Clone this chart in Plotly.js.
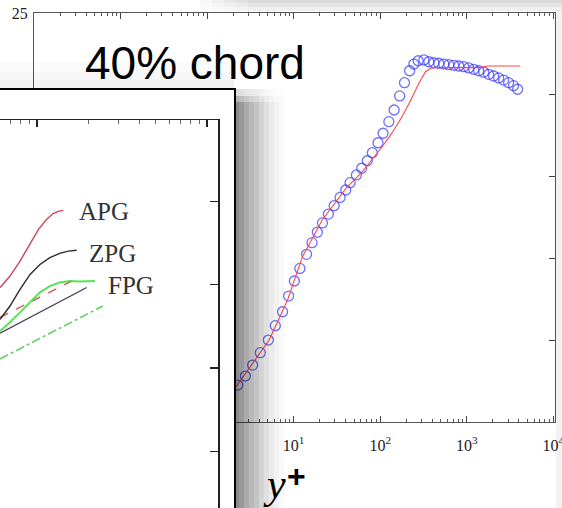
<!DOCTYPE html>
<html>
<head>
<meta charset="utf-8">
<script src="https://cdn.plot.ly/plotly-3.0.1.min.js"></script>
<style>html,body{margin:0;padding:0;background:#fff;}#chart{width:562px;height:508px;}</style>
</head>
<body>
<div id="chart"></div>
<script>
// ---- main chart data: u+ versus y+ at 40% chord ----
var measYplus = [2.26, 2.77, 3.36, 4.12, 5.10, 6.14, 7.45, 8.74, 10.2, 11.8, 14.1, 16.3, 18.8, 21.5, 25.2, 29.4, 34.4, 40.0, 44.9, 53.1, 61.2, 71.0, 81.1, 94.4, 108, 126, 145, 168, 191, 219, 245, 275, 320, 365, 417, 475, 543, 621, 708, 809, 923, 1054, 1205, 1374, 1570, 1791, 2046, 2339, 2667, 3048, 3475, 3873];
var measUplus = [2.26, 2.81, 3.48, 4.24, 5.01, 5.89, 6.74, 7.70, 8.62, 9.39, 10.25, 10.96, 11.6, 12.17, 12.71, 13.22, 13.73, 14.18, 14.63, 15.10, 15.51, 15.97, 16.46, 17.07, 17.65, 18.36, 19.07, 19.93, 20.74, 21.47, 21.88, 22.08, 22.13, 22.02, 21.96, 21.93, 21.88, 21.84, 21.80, 21.76, 21.72, 21.64, 21.56, 21.47, 21.38, 21.25, 21.15, 21.03, 20.90, 20.74, 20.56, 20.34];
var simYplus = [2.07, 3.34, 5.2, 8.51, 12.6, 21.4, 40.4, 61.7, 84.9, 105, 137, 178, 226, 280, 334, 382, 436, 883, 1374, 1791, 4159];
var simUplus = [2.02, 3.55, 5.0, 7.46, 10.09, 12.35, 14.30, 15.28, 16.20, 16.81, 17.67, 18.64, 19.68, 20.70, 21.41, 21.62, 21.66, 21.66, 21.66, 21.76, 21.76];
var xTickVals = [0.01, 0.1, 1, 10, 100, 1000, 10000];
var xTickText = ['10<sup>-2</sup>', '10<sup>-1</sup>', '10<sup>0</sup>', '10<sup>1</sup>', '10<sup>2</sup>', '10<sup>3</sup>', '10<sup>4</sup>'];
var yTickVals = [0, 5, 10, 15, 20, 25];
var chartTitle = '40% chord';
var xTitleMain = 'y';
var xTitleSup = '+';

// ---- inset data ----
var apgX = [6.06, 6.93, 7.94, 9.10, 10.2, 11.4, 12.5, 13.5, 14.3];
var apgY = [14.83, 15.52, 16.42, 17.42, 18.33, 18.93, 19.29, 19.42, 19.47];
var zpgX = [6.06, 6.93, 7.94, 9.10, 10.4, 11.9, 13.6, 15.3, 17.1];
var zpgY = [12.92, 13.72, 14.72, 15.62, 16.22, 16.63, 16.88, 17.02, 17.07];
var fpgX = [6.06, 6.93, 7.94, 9.10, 10.4, 11.9, 13.6, 15.6, 17.9, 21.9];
var fpgY = [12.22, 12.74, 13.34, 13.94, 14.54, 14.92, 15.14, 15.22, 15.19, 15.22];
var logLawX = [6.06, 19.6];
var logLawY = [12.09, 14.83];
var apgLawX = [6.06, 16.0];
var apgLawY = [13.04, 15.22];
var fpgLawX = [6.06, 24.4];
var fpgLawY = [10.54, 13.72];
var insetLabels = ['APG', 'ZPG', 'FPG'];
var insetYTicks = [5, 10, 15, 20];
var insetXTicks = [10, 100];

function minorLogTicks(lo, hi) {
  var out = [];
  for (var e = lo; e < hi; e++) for (var d = 2; d <= 9; d++) out.push(d * Math.pow(10, e));
  return out;
}

var serif = 'Liberation Serif, Times New Roman, serif';
var W = 562, H = 508;
function px(x) { return x / W; }
function py(y) { return 1 - y / H; }

var traces = [
  {x: measYplus, y: measUplus, type: 'scatter', mode: 'markers', xaxis: 'x', yaxis: 'y',
   marker: {symbol: 'circle-open', size: 10, color: 'rgba(50,50,255,0.7)', line: {width: 1.3}}, hoverinfo: 'skip'},
  {x: simYplus, y: simUplus, type: 'scatter', mode: 'lines', xaxis: 'x', yaxis: 'y',
   line: {color: 'rgb(255,70,70)', width: 1.1}, hoverinfo: 'skip'},
  // inset white panel
  {x: [0, 1, 1, 0, 0], y: [0, 0, 1, 1, 0], type: 'scatter', mode: 'lines', xaxis: 'x2', yaxis: 'y2',
   fill: 'toself', fillcolor: '#ffffff', line: {width: 0, color: '#ffffff'}, hoverinfo: 'skip'},
  // inset curves
  {x: fpgLawX, y: fpgLawY, type: 'scatter', mode: 'lines', xaxis: 'x3', yaxis: 'y3',
   line: {color: 'rgba(60,200,60,0.8)', width: 1.6, dash: 'dashdot'}, hoverinfo: 'skip'},
  {x: logLawX, y: logLawY, type: 'scatter', mode: 'lines', xaxis: 'x3', yaxis: 'y3',
   line: {color: 'rgba(40,20,60,0.85)', width: 1.2}, hoverinfo: 'skip'},
  {x: apgLawX, y: apgLawY, type: 'scatter', mode: 'lines', xaxis: 'x3', yaxis: 'y3',
   line: {color: 'rgba(190,70,50,0.8)', width: 1.6, dash: 'dash'}, hoverinfo: 'skip'},
  {x: fpgX, y: fpgY, type: 'scatter', mode: 'lines', xaxis: 'x3', yaxis: 'y3',
   line: {color: 'rgba(60,220,60,0.85)', width: 2}, hoverinfo: 'skip'},
  {x: zpgX, y: zpgY, type: 'scatter', mode: 'lines', xaxis: 'x3', yaxis: 'y3',
   line: {color: 'rgba(20,20,20,0.9)', width: 1.4}, hoverinfo: 'skip'},
  {x: apgX, y: apgY, type: 'scatter', mode: 'lines', xaxis: 'x3', yaxis: 'y3',
   line: {color: 'rgba(200,50,70,0.9)', width: 1.4}, hoverinfo: 'skip'}
];

// shadow shapes
var shapes = [];
var shadowAlpha = [0.46, 0.40, 0.33, 0.28, 0.23, 0.17, 0.12, 0.08, 0.05, 0.025];
for (var i = 0; i < shadowAlpha.length; i++) {
  var x0 = 234 + i * 5, x1 = x0 + 5, a = shadowAlpha[i];
  shapes.push({type: 'rect', xref: 'paper', yref: 'paper', layer: 'above', x0: px(x0), x1: px(x1), y0: py(508), y1: py(102),
               fillcolor: 'rgba(0,0,0,' + a + ')', line: {width: 0}});
  shapes.push({type: 'rect', xref: 'paper', yref: 'paper', layer: 'above', x0: px(x0), x1: px(x1), y0: py(102), y1: py(96),
               fillcolor: 'rgba(0,0,0,' + (a * 0.65) + ')', line: {width: 0}});
  shapes.push({type: 'rect', xref: 'paper', yref: 'paper', layer: 'above', x0: px(x0), x1: px(x1), y0: py(96), y1: py(89),
               fillcolor: 'rgba(0,0,0,' + (a * 0.3) + ')', line: {width: 0}});
}
// faint top band and right edge band
var topBand = [[0, 3, 0.15], [3, 7, 0.10], [7, 11, 0.06]];
topBand.forEach(function (b) {
  for (var k = 0; k < 5; k++) {
    shapes.push({type: 'rect', xref: 'paper', yref: 'paper', layer: 'above', x0: px(200 + k * 12), x1: px(k === 4 ? 562 : 212 + k * 12),
                 y0: py(b[1]), y1: py(b[0]), fillcolor: 'rgba(0,0,0,' + (b[2] * (k + 1) / 5) + ')', line: {width: 0}});
  }
});
shapes.push({type: 'rect', xref: 'paper', yref: 'paper', layer: 'above', x0: px(556), x1: 1, y0: 0, y1: py(10),
             fillcolor: 'rgba(0,0,0,0.05)', line: {width: 0}});
var leftBand = [[62, 72, 0.015], [72, 80, 0.03], [80, 89, 0.05]];
leftBand.forEach(function (b) {
  shapes.push({type: 'rect', xref: 'paper', yref: 'paper', layer: 'above', x0: 0, x1: px(234),
               y0: py(b[1]), y1: py(b[0]), fillcolor: 'rgba(0,0,0,' + b[2] + ')', line: {width: 0}});
});

var annotations = [
  {text: chartTitle, xref: 'paper', yref: 'paper', x: px(195), y: py(63), showarrow: false,
   font: {family: 'Liberation Sans, Arial, sans-serif', size: 46, color: '#000'}, xanchor: 'center', yanchor: 'middle'},
  {text: '<i>' + xTitleMain + '</i>', xref: 'paper', yref: 'paper', x: px(274), y: py(484), showarrow: false,
   font: {family: serif, size: 42, color: '#000'}, xanchor: 'center', yanchor: 'middle'},
  {text: '<b>' + xTitleSup + '</b>', xref: 'paper', yref: 'paper', x: px(296), y: py(476), showarrow: false,
   font: {family: 'Liberation Sans, Arial, sans-serif', size: 32, color: '#000'}, xanchor: 'center', yanchor: 'middle'},
  {text: insetLabels[0], xref: 'paper', yref: 'paper', x: px(104), y: py(212), showarrow: false,
   font: {family: serif, size: 25, color: '#333'}, xanchor: 'center', yanchor: 'middle'},
  {text: insetLabels[1], xref: 'paper', yref: 'paper', x: px(112), y: py(253), showarrow: false,
   font: {family: serif, size: 25, color: '#333'}, xanchor: 'center', yanchor: 'middle'},
  {text: insetLabels[2], xref: 'paper', yref: 'paper', x: px(131), y: py(285), showarrow: false,
   font: {family: serif, size: 25, color: '#333'}, xanchor: 'center', yanchor: 'middle'}
];

var layout = {
  width: W, height: H,
  margin: {l: 0, r: 0, t: 0, b: 0, pad: 0},
  paper_bgcolor: '#ffffff', plot_bgcolor: 'rgba(0,0,0,0)',
  showlegend: false,
  xaxis: {domain: [px(34), px(555)], anchor: 'y', type: 'log', range: [-2, 4.02],
          tickmode: 'array', tickvals: xTickVals, ticktext: xTickText, ticklabeloverflow: 'allow', ticklabelstandoff: 9,
          ticks: 'inside', ticklen: 6, tickcolor: '#444', mirror: 'ticks', showline: true, linecolor: '#555', linewidth: 1,
          showgrid: false, zeroline: false,
          minor: {tickmode: 'array', tickvals: minorLogTicks(-2, 4), ticks: 'inside', ticklen: 3, tickcolor: '#555', showgrid: false},
          tickfont: {family: serif, size: 16, color: '#222'}},
  yaxis: {domain: [1 - 422 / H, 1 - 13 / H], anchor: 'x', range: [0, 25], tickmode: 'array', tickvals: yTickVals,
          ticks: 'inside', ticklen: 6, tickcolor: '#444', mirror: 'ticks', showline: true, linecolor: '#555', linewidth: 1,
          ticklabelstandoff: 2,
          showgrid: false, zeroline: false, tickfont: {family: serif, size: 16, color: '#222'}},
  xaxis2: {domain: [0, px(234)], anchor: 'y2', range: [0, 1], side: 'top', showline: true, linecolor: '#000', linewidth: 2,
           ticks: '', showticklabels: false, showgrid: false, zeroline: false, fixedrange: true},
  yaxis2: {domain: [0, 1 - 90 / H], anchor: 'x2', range: [0, 1], side: 'right', showline: true, linecolor: '#000', linewidth: 2,
           ticks: '', showticklabels: false, showgrid: false, zeroline: false, fixedrange: true},
  xaxis3: {domain: [0, px(218)], anchor: 'y3', type: 'log', range: [0.782, 2.065], side: 'top',
           showline: true, linecolor: '#222', linewidth: 1.5,
           tickmode: 'array', tickvals: insetXTicks, ticks: 'inside', ticklen: 7, tickcolor: '#222', tickwidth: 1.2,
           minor: {tickmode: 'array', tickvals: minorLogTicks(0, 3), ticks: 'inside', ticklen: 4, tickcolor: '#666', showgrid: false},
           showticklabels: false, showgrid: false, zeroline: false},
  yaxis3: {domain: [0, 1 - 120 / H], anchor: 'x3', range: [1.58, 24.9], side: 'right',
           showline: true, linecolor: '#222', linewidth: 1.5,
           tickmode: 'array', tickvals: insetYTicks, ticks: 'inside', ticklen: 8, tickcolor: '#222', tickwidth: 1.2,
           showticklabels: false, showgrid: false, zeroline: false},
  shapes: shapes,
  annotations: annotations
};

Plotly.newPlot('chart', traces, layout, {displayModeBar: false, staticPlot: true});
</script>
</body>
</html>
